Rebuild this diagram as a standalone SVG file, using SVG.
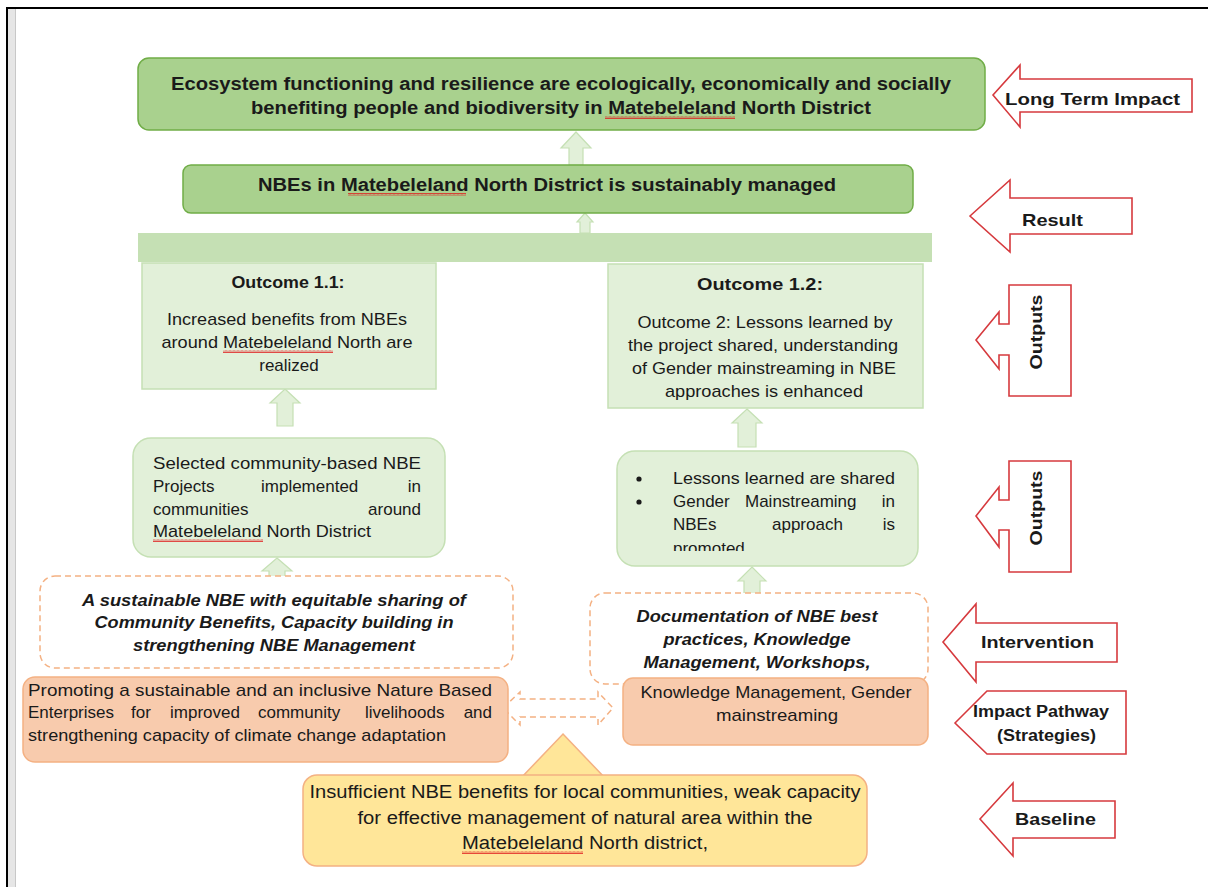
<svg xmlns="http://www.w3.org/2000/svg" width="1208" height="887" viewBox="0 0 1208 887">
  <style>
    .t { font-family: "Liberation Sans", Arial, sans-serif; fill: #1a1a1a; }
    .b { font-weight: bold; }
    .bi { font-weight: bold; font-style: italic; }
    .s18 { font-size: 18px; }
    .s17 { font-size: 17px; }
    .s16 { font-size: 16px; }
    .mid { text-anchor: middle; }
    .end { text-anchor: end; }
    .dark { fill: #a9d18e; stroke: #70ad47; stroke-width: 1.5; }
    .bar { fill: #c5e0b4; }
    .light { fill: #e2f0d9; stroke: #c5e0b4; stroke-width: 1.5; }
    .up { fill: #e2f0d9; stroke: #c5e0b4; stroke-width: 1.2; }
    .dash { fill: #ffffff; stroke: #f4b183; stroke-width: 1.5; stroke-dasharray: 6 4; }
    .peach { fill: #f8cbad; stroke: #f4b183; stroke-width: 1.5; }
    .gold { fill: #ffe699; stroke: #f4b183; stroke-width: 1.5; }
    .tag { fill: #ffffff; stroke: #d63a3e; stroke-width: 1.6; stroke-linejoin: miter; }
    .sq { fill: url(#squig); }
  </style>
  <defs>
    <pattern id="squig" width="4" height="3" patternUnits="userSpaceOnUse">
      <path d="M0,2.5 L1,0.5 L2,2.5 L3,0.5 L4,2.5" fill="none" stroke="#e02020" stroke-width="0.8"/>
    </pattern>
    <clipPath id="lessonsClip">
      <rect x="612" y="440" width="320" height="111"/>
    </clipPath>
  </defs>

  <rect x="0" y="0" width="1208" height="887" fill="#ffffff"/>

  <!-- page frame -->
  <g id="page-frame">
    <rect x="8" y="9" width="7" height="878" fill="#e6e6e6"/>
    <line x1="15.5" y1="9" x2="15.5" y2="887" stroke="#c8c8c8" stroke-width="1"/>
    <line x1="6" y1="8" x2="1208" y2="8" stroke="#000000" stroke-width="2"/>
    <line x1="7" y1="8" x2="7" y2="887" stroke="#000000" stroke-width="2"/>
  </g>

  <!-- connectors -->
  <g id="connectors">
    <path class="up" d="M576,132 L591,148 L583,148 L583,165 L569,165 L569,148 L561,148 Z"/>
    <path class="up" d="M585,213 L593,222 L590,222 L590,233 L580,233 L580,222 L577,222 Z"/>
    <path class="up" d="M285,389 L300,403 L293,403 L293,426 L277,426 L277,403 L270,403 Z"/>
    <path class="up" d="M747,409 L762,423 L756,423 L756,447 L738,447 L738,423 L732,423 Z"/>
    <path class="up" d="M277,558 L292,571 L285,571 L285,592 L269,592 L269,571 L262,571 Z"/>
    <path class="up" d="M752,567 L766,581 L760,581 L760,602 L744,602 L744,581 L738,581 Z"/>
    <path class="dash" d="M503,708 L520,692 L520,699 L598,699 L598,692 L613,708 L598,725 L598,717 L520,717 L520,725 Z"/>
  </g>

  <!-- long term impact -->
  <g id="impact">
    <rect class="dark" x="138" y="58" width="847" height="72" rx="11"/>
    <text class="t b s18 mid" x="561" y="90" textLength="780" lengthAdjust="spacingAndGlyphs">Ecosystem functioning and resilience are ecologically, economically and socially</text>
    <text class="t b s18 mid" x="561" y="114" textLength="620" lengthAdjust="spacingAndGlyphs">benefiting people and biodiversity in Matebeleland North District</text>
    <rect class="sq" x="605" y="116" width="130" height="3"/>
  </g>

  <!-- result -->
  <g id="result">
    <rect class="dark" x="183" y="165" width="730" height="48" rx="8"/>
    <text class="t b s18 mid" x="547" y="191" textLength="578" lengthAdjust="spacingAndGlyphs">NBEs in Matebeleland North District is sustainably managed</text>
    <rect class="sq" x="348" y="193" width="118" height="3"/>
  </g>

  <!-- shared band under result -->
  <g id="outcome-band">
    <rect class="bar" x="138" y="233" width="794" height="29"/>
  </g>

  <!-- outcome 1.1 -->
  <g id="outcome-1-1">
    <rect class="light" x="142" y="263" width="294" height="126"/>
    <text class="t b s16 mid" x="288" y="288" textLength="113" lengthAdjust="spacingAndGlyphs">Outcome 1.1:</text>
    <text class="t s17 mid" x="287" y="325" textLength="240" lengthAdjust="spacingAndGlyphs">Increased benefits from NBEs</text>
    <text class="t s17 mid" x="287" y="348" textLength="251" lengthAdjust="spacingAndGlyphs">around Matebeleland North are</text>
    <text class="t s17 mid" x="289" y="371">realized</text>
    <rect class="sq" x="223" y="350" width="110" height="3"/>
  </g>

  <!-- outcome 1.2 -->
  <g id="outcome-1-2">
    <rect class="light" x="608" y="264" width="315" height="144"/>
    <text class="t b s16 mid" x="760" y="290" textLength="126" lengthAdjust="spacingAndGlyphs">Outcome 1.2:</text>
    <text class="t s17 mid" x="765" y="328" textLength="255" lengthAdjust="spacingAndGlyphs">Outcome 2: Lessons learned by</text>
    <text class="t s17 mid" x="763" y="351" textLength="270" lengthAdjust="spacingAndGlyphs">the project shared, understanding</text>
    <text class="t s17 mid" x="764" y="374" textLength="264" lengthAdjust="spacingAndGlyphs">of Gender mainstreaming in NBE</text>
    <text class="t s17 mid" x="764" y="397" textLength="198" lengthAdjust="spacingAndGlyphs">approaches is enhanced</text>
  </g>

  <!-- community projects output -->
  <g id="output-projects">
    <rect class="light" x="133" y="438" width="312" height="119" rx="18"/>
    <text class="t s17" x="153" y="469" textLength="268" lengthAdjust="spacingAndGlyphs">Selected community-based NBE</text>
    <text class="t s17" x="153" y="492">Projects</text>
    <text class="t s17" x="261" y="492">implemented</text>
    <text class="t s17 end" x="421" y="492">in</text>
    <text class="t s17" x="153" y="515">communities</text>
    <text class="t s17 end" x="421" y="515">around</text>
    <text class="t s17" x="153" y="537" textLength="218" lengthAdjust="spacingAndGlyphs">Matebeleland North District</text>
    <rect class="sq" x="153" y="539" width="110" height="3"/>
  </g>

  <!-- lessons output -->
  <g id="output-lessons">
    <rect class="light" x="617" y="451" width="301" height="115" rx="18"/>
    <g clip-path="url(#lessonsClip)">
      <circle cx="639" cy="479" r="2.6" fill="#1a1a1a"/>
      <circle cx="639" cy="502" r="2.6" fill="#1a1a1a"/>
      <text class="t s17" x="673" y="484" textLength="222" lengthAdjust="spacingAndGlyphs">Lessons learned are shared</text>
      <text class="t s17" x="673" y="507">Gender</text>
      <text class="t s17" x="745" y="507">Mainstreaming</text>
      <text class="t s17 end" x="895" y="507">in</text>
      <text class="t s17" x="673" y="530">NBEs</text>
      <text class="t s17" x="772" y="530">approach</text>
      <text class="t s17 end" x="895" y="530">is</text>
      <text class="t s17" x="673" y="554">promoted</text>
    </g>
  </g>

  <!-- interventions -->
  <g id="intervention-left">
    <rect class="dash" x="40" y="576" width="473" height="92" rx="15"/>
    <text class="t bi s17 mid" x="274" y="606" textLength="384" lengthAdjust="spacingAndGlyphs">A sustainable NBE with equitable sharing of</text>
    <text class="t bi s17 mid" x="274" y="628" textLength="359" lengthAdjust="spacingAndGlyphs">Community Benefits, Capacity building in</text>
    <text class="t bi s17 mid" x="274" y="651" textLength="282" lengthAdjust="spacingAndGlyphs">strengthening NBE Management</text>
  </g>

  <g id="intervention-right">
    <rect class="dash" x="590" y="593" width="338" height="91" rx="15"/>
    <text class="t bi s17 mid" x="757" y="622" textLength="241" lengthAdjust="spacingAndGlyphs">Documentation of NBE best</text>
    <text class="t bi s17 mid" x="757" y="645" textLength="187" lengthAdjust="spacingAndGlyphs">practices, Knowledge</text>
    <text class="t bi s17 mid" x="757" y="668" textLength="227" lengthAdjust="spacingAndGlyphs">Management, Workshops,</text>
  </g>

  <!-- strategies -->
  <g id="strategy-left">
    <rect class="peach" x="23" y="677" width="485" height="85" rx="12"/>
    <text class="t s17" x="28" y="696" textLength="464" lengthAdjust="spacingAndGlyphs">Promoting a sustainable and an inclusive Nature Based</text>
    <text class="t s17" x="28" y="718">Enterprises</text>
    <text class="t s17" x="131" y="718">for</text>
    <text class="t s17" x="170" y="718">improved</text>
    <text class="t s17" x="258" y="718">community</text>
    <text class="t s17" x="365" y="718">livelihoods</text>
    <text class="t s17 end" x="492" y="718">and</text>
    <text class="t s17" x="28" y="741" textLength="418" lengthAdjust="spacingAndGlyphs">strengthening capacity of climate change adaptation</text>
  </g>

  <g id="strategy-right">
    <rect class="peach" x="623" y="678" width="305" height="67" rx="10"/>
    <text class="t s17 mid" x="776" y="698" textLength="271" lengthAdjust="spacingAndGlyphs">Knowledge Management, Gender</text>
    <text class="t s17 mid" x="777" y="721" textLength="122" lengthAdjust="spacingAndGlyphs">mainstreaming</text>
  </g>

  <!-- baseline -->
  <g id="baseline">
    <path class="gold" d="M563,734 L605,778 L521,778 Z"/>
    <rect class="gold" x="303" y="775" width="564" height="91" rx="14"/>
    <text class="t s18 mid" x="585" y="798" textLength="551" lengthAdjust="spacingAndGlyphs">Insufficient NBE benefits for local communities, weak capacity</text>
    <text class="t s18 mid" x="585" y="824" textLength="455" lengthAdjust="spacingAndGlyphs">for effective management of natural area within the</text>
    <text class="t s18 mid" x="585" y="849" textLength="246" lengthAdjust="spacingAndGlyphs">Matebeleland North district,</text>
    <rect class="sq" x="462" y="851" width="121" height="3"/>
  </g>

  <!-- level labels -->
  <g id="label-long-term">
    <path class="tag" d="M993,95 L1020,65 L1020,79 L1192,79 L1192,112 L1020,112 L1020,127 Z"/>
    <text class="t b s17" x="1005" y="105" textLength="175" lengthAdjust="spacingAndGlyphs">Long Term Impact</text>
  </g>
  <g id="label-result">
    <path class="tag" d="M970,216 L1010,180 L1010,198 L1132,198 L1132,234 L1010,234 L1010,252 Z"/>
    <text class="t b s17" x="1022" y="226" textLength="61" lengthAdjust="spacingAndGlyphs">Result</text>
  </g>
  <g id="label-outputs-1">
    <path class="tag" d="M976,340 L999,312 L999,324 L1009,324 L1009,285 L1071,285 L1071,396 L1009,396 L1009,355 L999,355 L999,369 Z"/>
    <text class="t b s17 mid" transform="translate(1042,332) rotate(-90)" textLength="75" lengthAdjust="spacingAndGlyphs">Outputs</text>
  </g>
  <g id="label-outputs-2">
    <path class="tag" d="M976,516 L999,487 L999,500 L1009,500 L1009,461 L1071,461 L1071,572 L1009,572 L1009,530 L999,530 L999,547 Z"/>
    <text class="t b s17 mid" transform="translate(1042,508) rotate(-90)" textLength="75" lengthAdjust="spacingAndGlyphs">Outputs</text>
  </g>
  <g id="label-intervention">
    <path class="tag" d="M943,642 L976,604 L976,623 L1117,623 L1117,662 L976,662 L976,682 Z"/>
    <text class="t b s17" x="981" y="648" textLength="113" lengthAdjust="spacingAndGlyphs">Intervention</text>
  </g>
  <g id="label-pathway">
    <path class="tag" d="M955,723 L987,691 L1126,691 L1126,754 L987,754 Z"/>
    <text class="t b s16" x="973" y="717" textLength="136" lengthAdjust="spacingAndGlyphs">Impact Pathway</text>
    <text class="t b s16" x="997" y="741" textLength="99" lengthAdjust="spacingAndGlyphs">(Strategies)</text>
  </g>
  <g id="label-baseline">
    <path class="tag" d="M980,819 L1013,783 L1013,801 L1115,801 L1115,838 L1013,838 L1013,856 Z"/>
    <text class="t b s17" x="1015" y="825" textLength="81" lengthAdjust="spacingAndGlyphs">Baseline</text>
  </g>
</svg>
